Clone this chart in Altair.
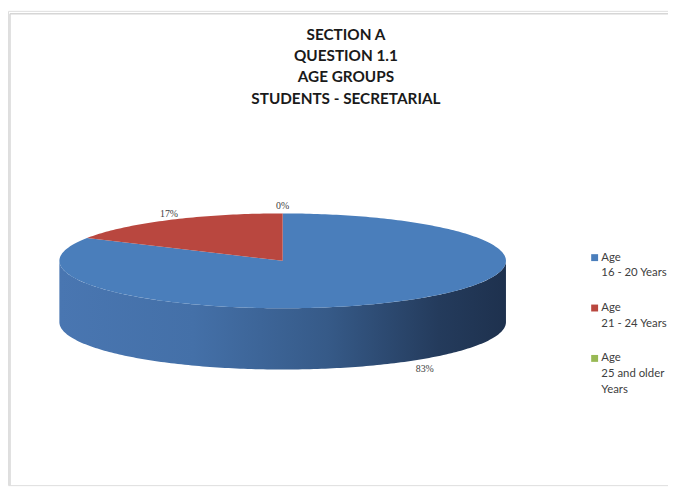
import numpy as np
import pandas as pd
import altair as alt

# ---- data ----
TITLE_LINES = ["SECTION A", "QUESTION 1.1", "AGE GROUPS", "STUDENTS - SECRETARIAL"]
CATEGORIES = ["Age|16 - 20 Years", "Age|21 - 24 Years", "Age|25 and older|Years"]
VALUES = [83, 17, 0]
LABELS = ["83%", "17%", "0%"]
COLORS = ["#4A7EBB", "#B9473F", "#98B954"]

# ---- geometry of the tilted pie (page pixels) ----
CX, CY, A, B, DEPTH = 286, 261, 226, 48, 62
W, H = 668, 480
X0, Y0 = 8, 8

total = float(sum(VALUES))
slice_rows, label_rows = [], []
start = 90.0
for i, (cat, v, lab) in enumerate(zip(CATEGORIES, VALUES, LABELS)):
    sweep = 360.0 * v / total
    n = max(2, int(sweep) + 2)
    ts = np.radians(np.linspace(start, start - sweep, n))
    slice_rows.append({"cat": cat, "k": 0, "px": CX, "py": CY})
    for j, t in enumerate(ts):
        slice_rows.append({"cat": cat, "k": j + 1,
                           "px": CX + A * np.cos(t), "py": CY - B * np.sin(t)})
    m = np.radians(start - sweep / 2.0)
    front = np.sin(m) < -0.2
    ly = CY - (B + 7) * np.sin(m) + (DEPTH if front else 0)
    lx = CX + A * np.cos(m) * (1.25 if front else 1.0)
    label_rows.append({"cat": cat, "label": lab, "px": lx, "py": ly})
    start -= sweep
slices = pd.DataFrame(slice_rows)
labels = pd.DataFrame(label_rows)

# front wall of the cylinder (visible half, angles 180..360)
side_rows = []
t_top = np.radians(np.linspace(180, 360, 181))
k = 0
for t in t_top:
    side_rows.append({"k": k, "px": CX + A * np.cos(t), "py": CY - B * np.sin(t)})
    k += 1
for t in t_top[::-1]:
    side_rows.append({"k": k, "px": CX + A * np.cos(t), "py": CY - B * np.sin(t) + DEPTH})
    k += 1
side = pd.DataFrame(side_rows)

xs = alt.Scale(domain=[X0, X0 + W], nice=False, zero=False)
ys = alt.Scale(domain=[Y0, Y0 + H], nice=False, zero=False, reverse=True)
X = alt.X("px:Q", scale=xs, axis=None)
Y = alt.Y("py:Q", scale=ys, axis=None)

grad = alt.Gradient(
    gradient="linear",
    stops=[alt.GradientStop(color="#4976B1", offset=0),
           alt.GradientStop(color="#4470A8", offset=0.3),
           alt.GradientStop(color="#365A88", offset=0.6),
           alt.GradientStop(color="#243B5C", offset=0.85),
           alt.GradientStop(color="#1E314E", offset=1)],
    x1=0, x2=1, y1=0, y2=0)

side_layer = alt.Chart(side).mark_line(filled=True, fill=grad, strokeWidth=0).encode(
    x=X, y=Y, order="k:Q")

top_layer = alt.Chart(slices).mark_line(filled=True, strokeWidth=0).encode(
    x=X, y=Y, order="k:Q",
    color=alt.Color("cat:N", scale=alt.Scale(domain=CATEGORIES, range=COLORS),
                    legend=alt.Legend(title=None, orient="none", legendX=588, legendY=244,
                                      symbolType="square", symbolSize=49,
                                      symbolStrokeWidth=0,
                                      labelFont="Lato", labelFontSize=11.5,
                                      labelColor="#404040", labelLimit=0,
                                      labelOffset=1,
                                      labelExpr="split(datum.label, '|')",
                                      rowPadding=22)))

label_layer = alt.Chart(labels).mark_text(
    font="Liberation Serif", fontSize=10, color="#404040").encode(
    x=X, y=Y, text="label:N")

title_layer = alt.Chart(alt.Data(values=[{}])).mark_text(
    text=TITLE_LINES, font="Lato", fontSize=15.5, fontWeight="bold", color="#1A1A1A",
    align="center", baseline="alphabetic", lineHeight=21.7).encode(
    x=alt.value(342), y=alt.value(29))

frame_v = alt.Chart(alt.Data(values=[{}])).mark_rule(color="#D6D6D6", strokeWidth=1.5).encode(
    x=alt.value(2), y=alt.value(3), y2=alt.value(H))
frame_h = alt.Chart(alt.Data(values=[{}])).mark_rule(color="#D6D6D6", strokeWidth=1.5).encode(
    x=alt.value(2), x2=alt.value(W), y=alt.value(3))

chart = alt.layer(frame_v, frame_h, side_layer, top_layer, label_layer, title_layer).properties(
    width=W, height=H, autosize="none", padding=0, background="white"
).configure_view(stroke=None).configure(style={"guide-label": {"lineHeight": 16}})

chart.save("out.html", embed_options={"renderer": "svg", "actions": False})
